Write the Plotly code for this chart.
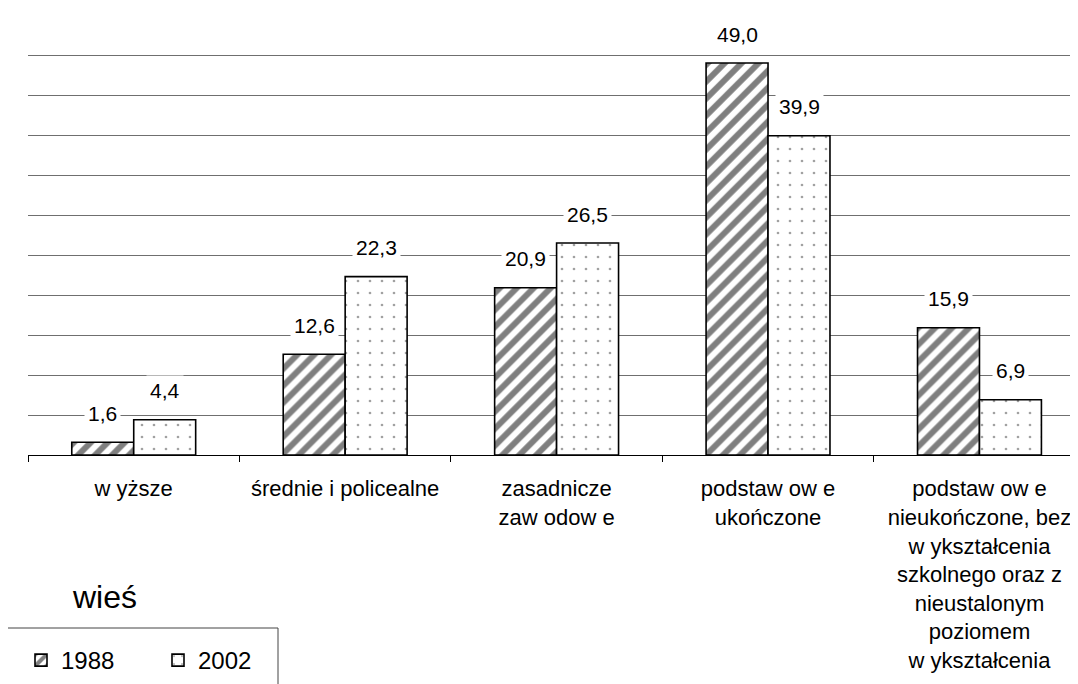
import plotly.graph_objects as go

categories = [
    "w yższe",
    "średnie i policealne",
    "zasadnicze<br>zaw odow e",
    "podstaw ow e<br>ukończone",
    "podstaw ow e<br>nieukończone, bez<br>w ykształcenia<br>szkolnego oraz z<br>nieustalonym<br>poziomem<br>w ykształcenia",
]
series_names = ["1988", "2002"]
values_1988 = [1.6, 12.6, 20.9, 49.0, 15.9]
values_2002 = [4.4, 22.3, 26.5, 39.9, 6.9]
panel_title = "wieś"

FONT = "Liberation Sans, Arial, sans-serif"
OFF = 8  # browser body margin
Y_MAX = 51
PX_PER_UNIT = 8
W, H = 1078 - OFF, 684 - OFF
PH = PX_PER_UNIT * Y_MAX
ML, MR, MB = 28 - OFF, 0, 229
MT = H - MB - PH
PW = W - ML - MR


def px_x(p):
    return (p - OFF - ML) / PW


def px_y(p):
    return (H - MB - (p - OFF)) / PH


fig = go.Figure()
fig.add_trace(go.Bar(
    x=categories, y=values_1988, name=series_names[0],
    marker=dict(color="white", line=dict(color="black", width=1.6),
                pattern=dict(shape="/", fgcolor="#000000", bgcolor="white",
                             size=12, solidity=0.5)),
))
fig.add_trace(go.Bar(
    x=categories, y=values_2002, name=series_names[1],
    marker=dict(color="white", line=dict(color="black", width=1.6),
                pattern=dict(shape=".", fgcolor="#444444", bgcolor="white",
                             size=12, solidity=0.04)),
))

bar_w = (1 - 0.414) / 2
annotations = []
for i, (a, b) in enumerate(zip(values_1988, values_2002)):
    for off, v in ((-bar_w / 2, a), (bar_w / 2, b)):
        annotations.append(dict(
            x=i + off, y=v, xref="x", yref="y", yshift=29,
            text=f"{v:.1f}".replace(".", ","), showarrow=False,
            bgcolor="white", borderpad=3,
            font=dict(family=FONT, size=21, color="black"),
        ))
annotations.append(dict(
    x=px_x(104), y=px_y(597), xref="paper", yref="paper",
    text=panel_title, showarrow=False, xanchor="center", yanchor="middle",
    font=dict(family=FONT, size=32, color="black"),
))

fig.update_layout(
    width=W, height=H,
    margin=dict(l=ML, r=MR, t=MT, b=MB, pad=0),
    paper_bgcolor="white", plot_bgcolor="white",
    barmode="group", bargap=0.414, bargroupgap=0,
    font=dict(family=FONT, size=21, color="black"),
    xaxis=dict(
        type="category", range=[-0.5, 4.966 - 0.5],
        showline=True, linecolor="black", linewidth=1,
        ticks="outside", tickson="boundaries", ticklen=6, tickcolor="black",
        tickfont=dict(family=FONT, size=22, color="black"),
        ticklabelstandoff=14, showgrid=False,
    ),
    yaxis=dict(
        range=[0, Y_MAX], tick0=0, dtick=5, showgrid=True, gridcolor="#6f6f6f",
        gridwidth=1, showticklabels=False, zeroline=False, showline=False,
        ticks="",
    ),
    showlegend=True,
    legend=dict(
        orientation="h", x=px_x(21), y=px_y(638), xanchor="left", yanchor="top",
        font=dict(family=FONT, size=24, color="black"),
        entrywidth=92, entrywidthmode="pixels", borderwidth=0,
        bgcolor="rgba(0,0,0,0)",
    ),
    shapes=[dict(
        type="rect", xref="paper", yref="paper",
        x0=px_x(7), x1=px_x(278), y0=px_y(628), y1=px_y(710),
        line=dict(color="#444444", width=1), fillcolor="rgba(0,0,0,0)",
        layer="below",
    )],
    annotations=annotations,
)

fig.write_html("out.html")
